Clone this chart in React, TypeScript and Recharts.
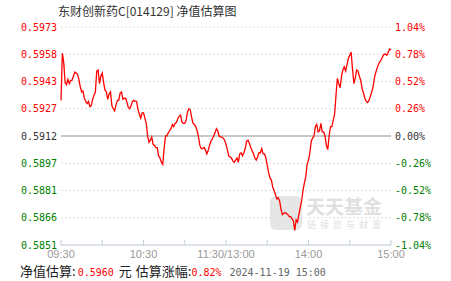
import React from 'react';
import { LineChart, Line, XAxis, YAxis, CartesianGrid, ReferenceLine } from 'recharts';

// Intraday estimate, % change vs. previous NAV (0.5912), one value per trading minute 09:30..15:00
const ESTIMATE_PCT: number[] = [
  0.34, 0.79, 0.70, 0.51, 0.49, 0.54, 0.50, 0.53, 0.53, 0.57,
  0.61, 0.60, 0.59, 0.54, 0.47, 0.42, 0.43, 0.36, 0.33, 0.31,
  0.33, 0.28, 0.29, 0.35, 0.39, 0.42, 0.62, 0.63, 0.50, 0.57,
  0.60, 0.51, 0.44, 0.42, 0.35, 0.40, 0.42, 0.29, 0.26, 0.24,
  0.30, 0.34, 0.34, 0.41, 0.42, 0.35, 0.36, 0.36, 0.32, 0.27,
  0.26, 0.29, 0.33, 0.34, 0.33, 0.33, 0.25, 0.21, 0.17, 0.22,
  0.22, 0.17, 0.12, 0.00, -0.06, -0.04, -0.01, -0.08, -0.09, -0.11,
  -0.11, -0.19, -0.21, -0.25, -0.27, -0.12, 0.00, 0.00, 0.03, 0.05,
  0.07, 0.11, 0.09, 0.12, 0.13, 0.17, 0.19, 0.20, 0.13, 0.12,
  0.12, 0.15, 0.23, 0.26, 0.25, 0.18, 0.12, 0.11, 0.09, 0.05,
  -0.01, -0.09, -0.12, -0.12, -0.11, -0.13, -0.17, -0.14, -0.09, -0.05,
  -0.03, 0.00, 0.03, 0.07, 0.05, 0.00, -0.01, -0.01, -0.02, -0.04,
  -0.08, -0.13, -0.19, -0.20, -0.21, -0.24, -0.25, -0.23, -0.21, -0.25,
  -0.17, -0.16, -0.19, -0.16, -0.12, -0.05, -0.04, -0.07, -0.11, -0.14,
  -0.17, -0.21, -0.23, -0.20, -0.16, -0.16, -0.12, -0.17, -0.17, -0.21,
  -0.28, -0.35, -0.40, -0.42, -0.49, -0.52, -0.56, -0.60, -0.59, -0.62,
  -0.70, -0.75, -0.74, -0.73, -0.74, -0.75, -0.77, -0.77, -0.79, -0.81,
  -0.90, -0.80, -0.82, -0.75, -0.68, -0.62, -0.52, -0.45, -0.39, -0.27,
  -0.23, -0.16, -0.05, -0.02, 0.00, 0.09, 0.11, 0.04, 0.05, 0.12,
  0.04, 0.04, 0.00, -0.09, -0.13, 0.00, 0.09, 0.09, 0.15, 0.21,
  0.39, 0.55, 0.50, 0.46, 0.57, 0.63, 0.66, 0.62, 0.68, 0.74,
  0.77, 0.80, 0.64, 0.50, 0.55, 0.63, 0.62, 0.57, 0.53, 0.45,
  0.41, 0.36, 0.33, 0.32, 0.34, 0.38, 0.42, 0.47, 0.56, 0.61,
  0.65, 0.69, 0.71, 0.73, 0.76, 0.78, 0.78, 0.77, 0.80, 0.83,
  0.82,
];

const PCT_TICKS = [1.04, 0.78, 0.52, 0.26, 0, -0.26, -0.52, -0.78, -1.04];
const NAV_LABELS = ['0.5973', '0.5958', '0.5943', '0.5927', '0.5912', '0.5897', '0.5881', '0.5866', '0.5851'];
const PCT_LABELS = ['1.04%', '0.78%', '0.52%', '0.26%', '0.00%', '-0.26%', '-0.52%', '-0.78%', '-1.04%'];

const TIME_TICKS = [0, 30, 60, 90, 120, 150, 180, 210, 240];
const TIME_LABELS = ['09:30', '', '10:30', '', '11:30/13:00', '', '14:00', '', '15:00'];

const TITLE = '东财创新药C[014129] 净值估算图';
const NAV_ESTIMATE = '0.5960';
const CHANGE_ESTIMATE = '0.82%';
const STAMP = '2024-11-19 15:00';

const RED = '#ff0000';
const GREEN = '#008000';
const MONO = '"DejaVu Sans Mono", "Liberation Mono", monospace';
const CJK = '"Noto Sans CJK SC", "Noto Sans", sans-serif';
const AXIS_BLUE = '#c3cfdc';

const data = ESTIMATE_PCT.map((pct, t) => ({ t, pct }));

const tickColor = (v: number) => (v > 0 ? RED : v < 0 ? GREEN : '#333');

function LeftTick({ x, y, payload, index }: any) {
  return (
    <text x={x} y={y} dy="0.35em" textAnchor="end" fontSize={10} fontFamily={MONO} fill={tickColor(payload.value)}>
      {NAV_LABELS[index]}
    </text>
  );
}

function RightTick({ x, y, payload, index }: any) {
  return (
    <text x={x} y={y} dy="0.35em" textAnchor="start" fontSize={10} fontFamily={MONO} fill={tickColor(payload.value)}>
      {PCT_LABELS[index]}
    </text>
  );
}

function TimeTick({ x, y, index }: any) {
  const label = TIME_LABELS[index];
  return (
    <g>
      <line x1={x} x2={x} y1={y} y2={y - 5} stroke={AXIS_BLUE} />
      {label && (
        <text x={x} y={y + 13} textAnchor="middle" fontSize={11} fontFamily='"Liberation Sans", Arial, sans-serif' fill="#999">
          {label}
        </text>
      )}
    </g>
  );
}

export default function App() {
  return (
    <div style={{ position: 'absolute', left: 0, top: 0, width: 451, height: 281, background: '#fff', overflow: 'hidden' }}>
      {/* watermark */}
      <div style={{ position: 'absolute', left: 270, top: 196, width: 32, height: 34, borderRadius: 6, background: '#e6e6e6' }} />
      <div style={{ position: 'absolute', left: 306, top: 192, fontSize: 19, fontWeight: 700, color: '#e0e0e0', fontFamily: CJK }}>
        天天基金
      </div>
      <div style={{ position: 'absolute', left: 307, top: 218, fontSize: 9, color: '#e0e0e0', fontFamily: CJK, letterSpacing: 4 }}>
        链接您与财富
      </div>

      <div style={{ position: 'absolute', left: 58, top: 2, fontSize: 12, lineHeight: '18px', color: '#333', fontFamily: CJK, whiteSpace: 'nowrap' }}>
        {TITLE}
      </div>

      <div style={{ position: 'absolute', left: 0, top: 0 }}>
        <LineChart width={451} height={281} data={data} margin={{ top: 27, right: 0, bottom: 0, left: 0 }}>
          <CartesianGrid yAxisId="left" vertical={false} stroke="#dcdcdc" strokeDasharray="2 2" />
          <XAxis
            dataKey="t"
            type="number"
            domain={[0, 240]}
            ticks={TIME_TICKS}
            interval={0}
            height={36}
            tickSize={0}
            tickMargin={0}
            tickLine={false}
            axisLine={{ stroke: AXIS_BLUE }}
            tick={<TimeTick />}
          />
          <YAxis
            yAxisId="left"
            orientation="left"
            width={61}
            domain={[-1.04, 1.04]}
            ticks={PCT_TICKS}
            interval={0}
            axisLine={false}
            tickLine={false}
            tickSize={0}
            tickMargin={4}
            tick={<LeftTick />}
          />
          <YAxis
            yAxisId="right"
            orientation="right"
            width={60}
            domain={[-1.04, 1.04]}
            ticks={PCT_TICKS}
            interval={0}
            axisLine={false}
            tickLine={false}
            tickSize={0}
            tickMargin={4}
            tick={<RightTick />}
          />
          <ReferenceLine yAxisId="left" y={0} stroke="#999" strokeWidth={1} />
          <Line
            yAxisId="right"
            type="linear"
            dataKey="pct"
            stroke="none"
            dot={false}
            activeDot={false}
            isAnimationActive={false}
          />
          <Line
            yAxisId="left"
            type="linear"
            dataKey="pct"
            stroke={RED}
            strokeWidth={1.3}
            dot={false}
            isAnimationActive={false}
          />
        </LineChart>
      </div>

      <div style={{ position: 'absolute', left: 20, top: 262, fontSize: 13, lineHeight: '18px', color: '#222', fontFamily: CJK, whiteSpace: 'nowrap' }}>
        净值估算:
        <span style={{ color: RED, fontFamily: MONO, fontSize: 10, marginLeft: 2 }}>{NAV_ESTIMATE}</span>
        <span style={{ marginLeft: 5 }}>元</span>
        <span style={{ marginLeft: 4 }}>估算涨幅:</span>
        <span style={{ color: RED, fontFamily: MONO, fontSize: 10 }}>{CHANGE_ESTIMATE}</span>
        <span style={{ color: '#666', fontFamily: MONO, fontSize: 10, marginLeft: 8 }}>{STAMP}</span>
      </div>
    </div>
  );
}
